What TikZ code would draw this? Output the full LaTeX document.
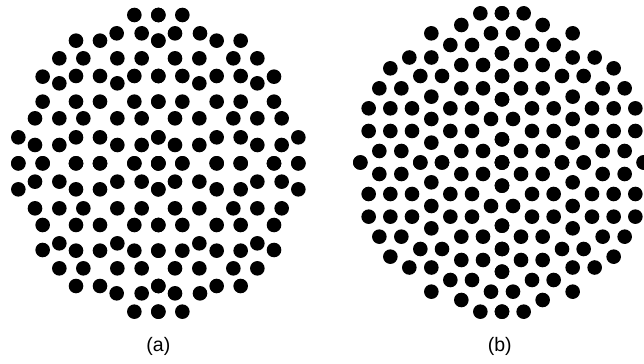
\documentclass[tikz,border=0pt]{standalone}
\usepackage{fontspec}
\setmainfont{Liberation Sans}
\usepackage{tikz}
\tikzset{
  dot/.style={fill=black},
  lbl/.style={font=\fontsize{19.5}{22}\selectfont}
}
\newcommand{\dotr}{7.3pt}

\begin{document}
\begin{tikzpicture}[x=1pt/3,y=-1pt/3]
\clip (0,0) rectangle (1932,1092);
% (a) one quarter, mirrored
\begin{scope}[shift={(475,490)}]
\foreach \sx in {1,-1} \foreach \sy in {1,-1}
  \foreach \x/\y in {72/445,0/445,
    247/368,175/368,125/390,50/390,0/368,
    297/315,225/315,123/315,50/315,
    347/260,297/240,247/262,175/262,123/240,72/262,0/262,
    347/185,247/185,175/185,72/185,0/185,
    370/135,297/135,225/135,123/135,50/135,
    420/78,370/55,297/55,247/78,175/78,123/55,50/55,0/78,
    420/0,347/0,247/0,175/0,72/0,0/0}
    \fill[dot] (\sx*\x,\sy*\y) circle[radius=\dotr];
\end{scope}
% (b) one quarter, mirrored
\begin{scope}[shift={(1506,487.5)}]
\foreach \sx in {1,-1} \foreach \sy in {1,-1}
  \foreach \x/\y in {65/447.5,0/447.5,
    122/412.5,
    212/387.5,33/387.5,
    155/352.5,90/352.5,
    0/327.5,
    278/315,212/315,
    122/292.5,57/292.5,
    335/282.5,
    245/259.5,180/259.5,0/259.5,
    368/222.5,302/222.5,122/222.5,57/222.5,
    212/197.5,
    0/189.5,
    400/162.5,335/162.5,270/162.5,155/162.5,90/162.5,
    212/130.5,33/130.5,
    400/94.5,335/94.5,270/94.5,155/94.5,90/94.5,
    0/69.5,
    212/59.5,
    368/34.5,302/34.5,122/34.5,57/34.5,
    425/0,245/0,180/0,0/0}
    \fill[dot] (\sx*\x,\sy*\y) circle[radius=\dotr];
\end{scope}
\node[lbl] (capa) at (475,1038) {(a)};
\node[lbl] (capb) at (1499,1038) {(b)};
\end{tikzpicture}
\end{document}
